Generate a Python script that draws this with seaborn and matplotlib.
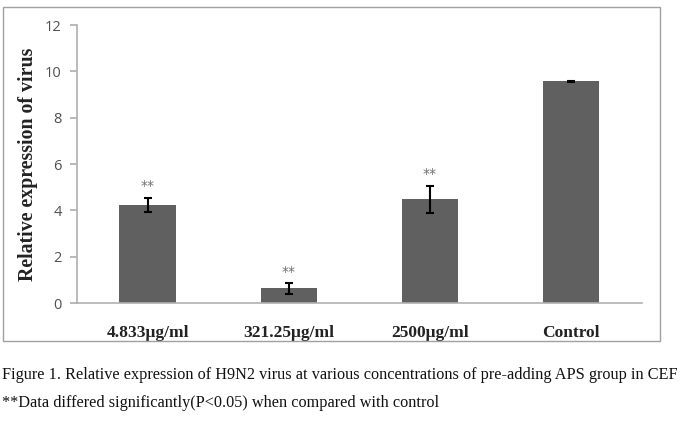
import matplotlib
matplotlib.use("Agg")
import matplotlib.pyplot as plt
import seaborn as sns
import pandas as pd
from matplotlib.patches import Rectangle

categories = ["4.833μg/ml", "321.25μg/ml", "2500μg/ml", "Control"]
values = [4.23, 0.63, 4.47, 9.57]
errors = [0.32, 0.22, 0.60, 0.03]
stars = ["**", "**", "**", ""]
yticks = [0, 2, 4, 6, 8, 10, 12]

sns.set_theme(style="white")
fig = plt.figure(figsize=(6.85, 4.29), dpi=100)
ax = fig.add_axes([0.1124, 0.2937, 0.8246, 0.648])

df = pd.DataFrame({"cat": categories, "val": values})
sns.barplot(data=df, x="cat", y="val", color="#606060", saturation=1,
            width=0.4, errorbar=None, ax=ax, edgecolor="none")
ax.errorbar(range(len(categories)), values, yerr=errors, fmt="none",
            ecolor="black", elinewidth=1.5, capsize=3, capthick=1.5)
for i, (v, e, s) in enumerate(zip(values, errors, stars)):
    if s:
        ax.text(i, v + e + 0.2, s, ha="center", va="bottom", color="#707070",
                fontsize=10, family="DejaVu Sans")

ax.set_xlim(-0.5, 3.5)
ax.set_ylim(0, 12)
ax.set_yticks(yticks)
ax.set_yticklabels([str(t) for t in yticks], family="Open Sans", fontsize=10.5, color="#505050")
ax.set_xticks(range(len(categories)))
ax.set_xticklabels(categories, family="Liberation Serif", fontweight="bold", fontsize=12.5, color="#222222")
ax.set_xlabel("")
ax.set_ylabel("Relative expression of virus", family="Liberation Serif", fontweight="bold",
              fontsize=14.3, color="#222222", labelpad=5)
for side in ["top", "right"]:
    ax.spines[side].set_visible(False)
for side in ["left", "bottom"]:
    ax.spines[side].set_color("#b0b0b0")
    ax.spines[side].set_linewidth(1.2)
ax.tick_params(axis="y", which="both", left=True, length=5, color="#b0b0b0", pad=6)
ax.tick_params(axis="x", bottom=False, pad=10)

fig.patches.append(Rectangle((3/685, 1-341/429), 657/685, 334/429, transform=fig.transFigure,
                             fill=False, edgecolor="#a0a0a0", linewidth=1))

fig.text(0.003, 1-375/429, "Figure 1. Relative expression of H9N2 virus at various concentrations of pre-adding APS group in CEF",
         family="Liberation Serif", fontsize=11.7, va="center", ha="left", color="#111111")
fig.text(0.003, 1-403/429, "**Data differed significantly(P<0.05) when compared with control",
         family="Liberation Serif", fontsize=11.7, va="center", ha="left", color="#111111")

fig.savefig("out.png", dpi=100)
